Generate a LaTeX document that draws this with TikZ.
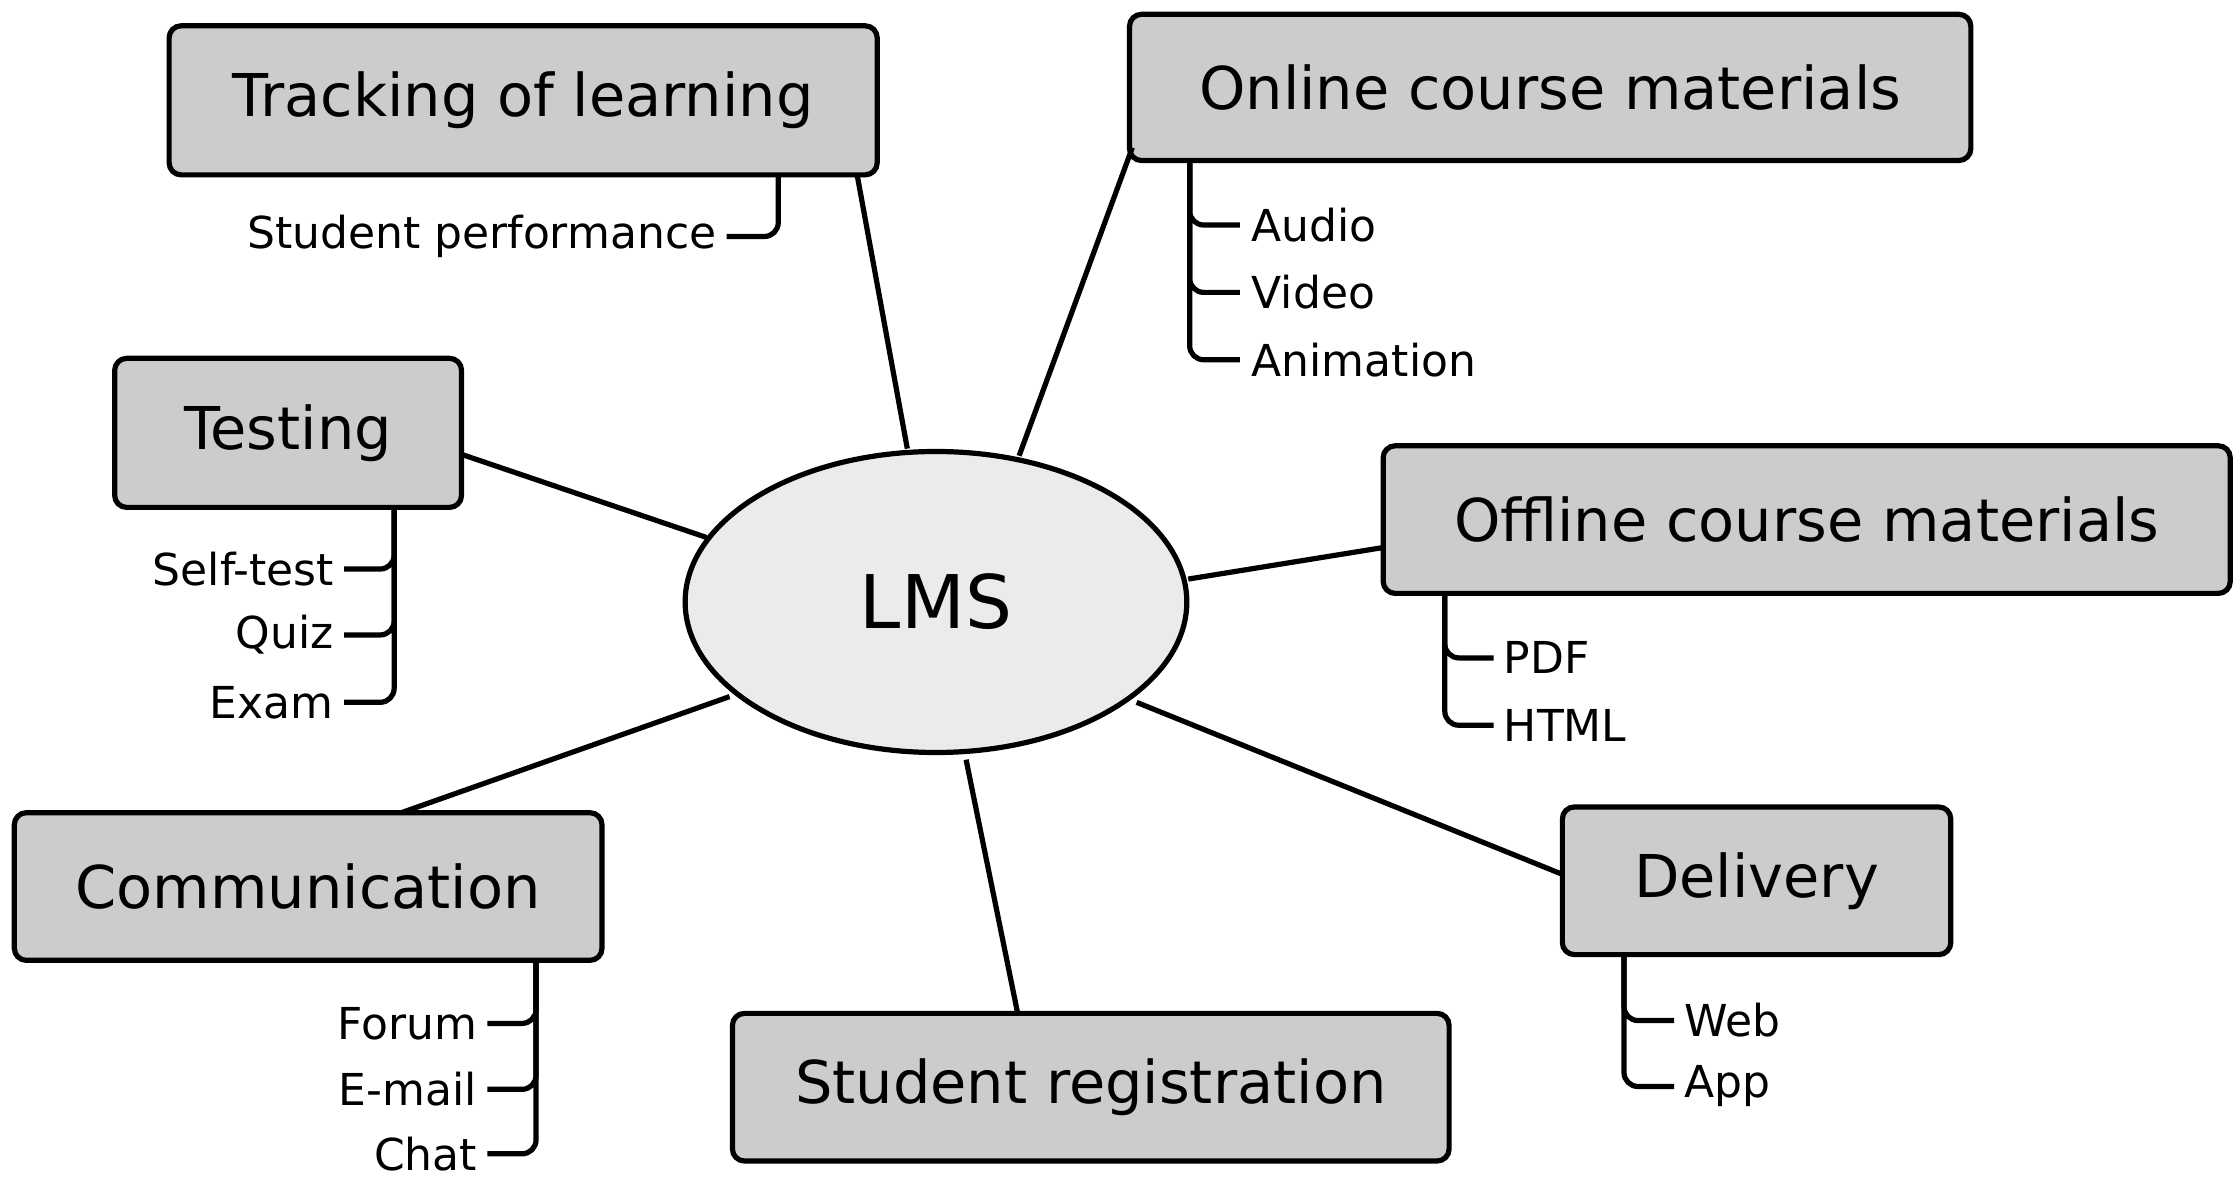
\documentclass[tikz,border=0pt]{standalone}
\usepackage{fontspec}
\setmainfont{DejaVu Sans}
\usetikzlibrary{shapes.geometric}
\begin{document}
\begin{tikzpicture}[x=0.7167pt,y=-0.7167pt,
  box/.style={draw,line width=2.6pt,fill=black!20,rounded corners=6pt,font=\fontsize{29.5}{33}\selectfont,inner sep=0pt},
  conn/.style={line width=2.6pt},
  br/.style={line width=2.6pt,rounded corners=7pt},
  sub/.style={font=\fontsize{22}{26}\selectfont,inner sep=0pt}]
\useasboundingbox (0,0) rectangle (1560,823);
\node[box,minimum width=494*0.7167pt,minimum height=104*0.7167pt] (trk) at (365,70) {Tracking of learning};
\node[box,minimum width=587*0.7167pt,minimum height=102*0.7167pt] (onl) at (1081.5,61) {Online course materials};
\node[box,minimum width=242*0.7167pt,minimum height=104*0.7167pt] (tst) at (201,302) {Testing};
\node[box,minimum width=591*0.7167pt,minimum height=103*0.7167pt] (off) at (1260.5,362.5) {Offline course materials};
\node[box,minimum width=410*0.7167pt,minimum height=103*0.7167pt] (com) at (215,618.5) {Communication};
\node[box,minimum width=500*0.7167pt,minimum height=103*0.7167pt] (reg) at (761,758.5) {Student registration};
\node[box,minimum width=271*0.7167pt,minimum height=103*0.7167pt] (del) at (1225.5,614.5) {Delivery};
\node[draw,ellipse,line width=2.6pt,fill=black!8,minimum width=350*0.7167pt,minimum height=210*0.7167pt,font=\fontsize{37}{40}\selectfont] (lms) at (653,420) {LMS};
% connectors
\coordinate (a1) at (598,122); \coordinate (b1) at (633,313);
\coordinate (a2) at (790,103); \coordinate (b2) at (711,318);
\coordinate (a3) at (322,317); \coordinate (b3) at (493,375);
\coordinate (a4) at (965,382); \coordinate (b4) at (829,404);
\coordinate (a5) at (280,567); \coordinate (b5) at (509,486);
\coordinate (a6) at (710,707); \coordinate (b6) at (674,530);
\coordinate (a7) at (1090,610); \coordinate (b7) at (793,490);
\foreach \i in {1,...,7} \draw[conn] (a\i) -- (b\i);
% sub items
\node[sub,anchor=east] (t1) at (500,165) {Student performance};
\draw[br] (543,122) |- ([xshift=7*0.7167pt]t1.east);
\node[sub,anchor=west] (o1) at (873,157) {Audio};
\node[sub,anchor=west] (o2) at (873,204) {Video};
\node[sub,anchor=west] (o3) at (873,251) {Animation};
\foreach \n in {o1,o2,o3} \draw[br] (830,112) |- ([xshift=-8*0.7167pt]\n.west);
\node[sub,anchor=east] (s1) at (233,397) {Self-test};
\node[sub,anchor=east] (s2) at (233,443) {Quiz};
\node[sub,anchor=east] (s3) at (233,490) {Exam};
\foreach \n in {s1,s2,s3} \draw[br] (275,354) |- ([xshift=7*0.7167pt]\n.east);
\node[sub,anchor=west] (f1) at (1049,459) {PDF};
\node[sub,anchor=west] (f2) at (1049,506) {HTML};
\foreach \n in {f1,f2} \draw[br] (1008,414) |- ([xshift=-7*0.7167pt]\n.west);
\node[sub,anchor=east] (c1) at (333,714) {Forum};
\node[sub,anchor=east] (c2) at (333,760) {E-mail};
\node[sub,anchor=east] (c3) at (333,805) {Chat};
\foreach \n in {c1,c2,c3} \draw[br] (374,670) |- ([xshift=7*0.7167pt]\n.east);
\node[sub,anchor=west] (d1) at (1175,712) {Web};
\node[sub,anchor=west] (d2) at (1175,758) {App};
\foreach \n in {d1,d2} \draw[br] (1133,666) |- ([xshift=-7*0.7167pt]\n.west);
\end{tikzpicture}
\end{document}
